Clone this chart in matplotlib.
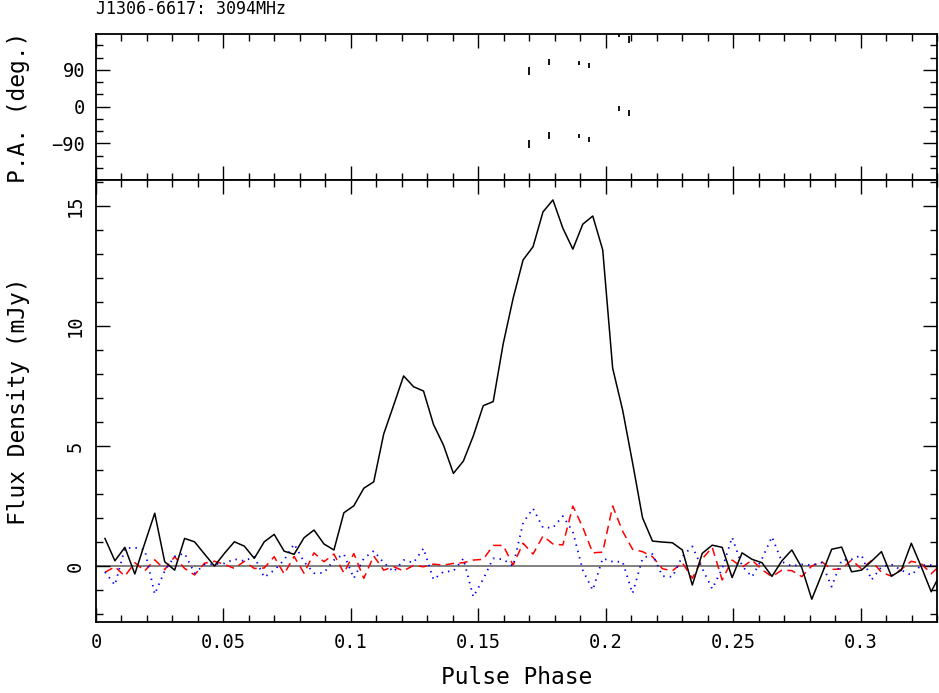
import numpy as np
import matplotlib
matplotlib.use('Agg')
import matplotlib.pyplot as plt
from matplotlib.ticker import MultipleLocator

# Perfil de pulso J1306-6617 a 3094 MHz (256 bins por período)
NBIN = 256
titulo = "J1306-6617: 3094MHz"

# Intensidade total (preto)
fluxo_I = [1.15, 0.22, 0.78, -0.33, 0.95, 2.2, 0.18, -0.17, 1.15, 1.01,
           0.5, 0.0, 0.53, 1.01, 0.83, 0.32, 1.01, 1.32, 0.62, 0.49,
           1.18, 1.5, 0.92, 0.67, 2.22, 2.51, 3.24, 3.51, 5.5, 6.7,
           7.92, 7.47, 7.29, 5.9, 5.04, 3.86, 4.37, 5.42, 6.68, 6.85,
           9.25, 11.15, 12.75, 13.3, 14.75, 15.25, 14.07, 13.2, 14.24, 14.58,
           13.17, 8.24, 6.5, 4.3, 2.01, 1.04, 1.0, 0.97, 0.67, -0.79,
           0.53, 0.87, 0.78, -0.48, 0.55, 0.28, 0.14, -0.43, 0.22, 0.67,
           -0.07, -1.38, -0.35, 0.7, 0.79, -0.24, -0.17, 0.2, 0.6, -0.42,
           -0.17, 0.95, -0.03, -1.07, -0.25]

# Polarização linear (vermelho tracejado)
fluxo_L = [-0.26, -0.03, -0.42, 0.14, -0.2, 0.26, -0.15, 0.39, -0.1, -0.37,
           0.12, 0.2, 0.07, -0.1, 0.2, -0.1, -0.08, 0.39, -0.33, 0.4,
           -0.3, 0.55, 0.18, 0.5, -0.29, 0.52, -0.51, 0.42, -0.17, -0.03,
           -0.2, 0.03, -0.03, 0.08, 0.04, 0.11, 0.14, 0.25, 0.28, 0.86,
           0.86, 0.04, 0.95, 0.5, 1.25, 0.92, 0.88, 2.5, 1.61, 0.55,
           0.58, 2.5, 1.45, 0.7, 0.6, 0.39, -0.11, -0.2, 0.14, -0.51,
           0.3, 0.78, -0.58, 0.25, -0.05, 0.25, -0.15, -0.44, -0.17, -0.19,
           -0.44, 0.0, 0.18, -0.14, -0.12, 0.25, -0.12, 0.23, -0.26, -0.42,
           -0.13, 0.2, 0.1, -0.32, 0.07]

# Polarização circular (azul pontilhado)
fluxo_V = [-0.25, -0.79, 0.74, 0.77, 0.67, -1.17, -0.2, 0.4, 0.53, -0.3,
           0.06, 0.08, 0.11, 0.29, 0.21, 0.39, -0.47, -0.17, 0.25, 0.92,
           0.18, -0.3, -0.28, 0.25, 0.5, -0.51, 0.32, 0.63, 0.14, -0.24,
           0.25, 0.14, 0.74, -0.56, -0.24, -0.21, 0.31, -1.28, -0.54, 0.32,
           0.28, 0.0, 1.8, 2.4, 1.6, 1.6, 2.08, 1.43, -0.17, -1.0,
           0.32, 0.18, 0.18, -1.14, 0.32, 0.5, -0.42, -0.45, 0.4, 0.82,
           -0.1, -0.95, -0.1, 1.2, 0.0, -0.45, 0.3, 1.22, 0.18, 0.0,
           0.07, 0.04, 0.14, -0.86, 0.25, 0.28, 0.46, -0.58, -0.03, 0.07,
           -0.17, -0.38, 0.04, 0.04, 0.0]

# Ângulo de posição (graus) e erros
pa_fase = [0.1698, 0.1776, 0.1895, 0.1934, 0.2053, 0.2091]
pa_graus = [88, 109, 108, 100, -4, -16]
pa_erro = [10, 8, 5, 6, 6, 8]

fase = (np.arange(len(fluxo_I)) + 0.9) / NBIN

plt.rcParams['font.family'] = ['DejaVu Sans Mono', 'DejaVu Sans']

fig = plt.figure(figsize=(9.39, 6.93), dpi=100)
ax_pa = fig.add_axes([96/939, 1 - 180/693, 841/939, 146/693])
ax = fig.add_axes([96/939, 1 - 622/693, 841/939, 442/693])

fonte = 16.5
fonte_ticks = 13.5

# painel do P.A.
pa = np.array(pa_graus, dtype=float)
for desloc in (-180, 0, 180):
    ax_pa.errorbar(pa_fase, pa + desloc, yerr=pa_erro, fmt='none',
                   ecolor='black', elinewidth=1.3, capsize=0)
ax_pa.set_ylim(-180, 178)
ax_pa.set_xlim(0, 0.33)
ax_pa.yaxis.set_minor_locator(MultipleLocator(30))
ax_pa.set_yticks([-90, 0, 90])
ax_pa.set_yticklabels(['\u221290', '0', '90'])
ax_pa.set_ylabel('P.A. (deg.)', fontsize=fonte)
ax_pa.yaxis.set_label_coords(-66/841, 0.5)
ax_pa.xaxis.set_major_locator(MultipleLocator(0.05))
ax_pa.xaxis.set_minor_locator(MultipleLocator(0.01))

# painel do fluxo
ax.axhline(0, color='#808080', lw=1.4, zorder=1)
ax.plot(fase, fluxo_I, color='black', lw=1.1, zorder=3)
ax.plot(fase, fluxo_L, color='#ff0000', lw=1.1, ls=(0, (5.5, 3.5)), zorder=2)
ax.plot(fase, fluxo_V, color='#0000ff', lw=1.3, ls=(0, (0.8, 2.8)), zorder=2)
ax.set_xlim(0, 0.33)
ax.set_ylim(-2.33, 16.08)
ax.xaxis.set_minor_locator(MultipleLocator(0.01))
ax.yaxis.set_major_locator(MultipleLocator(5))
ax.yaxis.set_minor_locator(MultipleLocator(1))
ax.set_xticks([0, 0.05, 0.1, 0.15, 0.2, 0.25, 0.3])
ax.set_xticklabels(['0', '0.05', '0.1', '0.15', '0.2', '0.25', '0.3'])
ax.set_xlabel('Pulse Phase', fontsize=fonte, labelpad=10)
ax.set_ylabel('Flux Density (mJy)', fontsize=fonte)
ax.yaxis.set_label_coords(-66/841, 0.5)

for a in (ax, ax_pa):
    a.tick_params(which='both', direction='in', top=True, right=True,
                  labelsize=fonte_ticks, width=1.0)
    a.tick_params(which='major', length=10, pad=8)
    a.tick_params(which='minor', length=5)
    for s in a.spines.values():
        s.set_linewidth(1.3)
ax_pa.tick_params(labelbottom=False)

for lab in ax.get_yticklabels():
    lab.set_rotation(90)
    lab.set_va('center')

fig.text(96/939, 1 - 9/693, titulo, fontsize=12, ha='left', va='center')

fig.savefig('out.png', dpi=100)
